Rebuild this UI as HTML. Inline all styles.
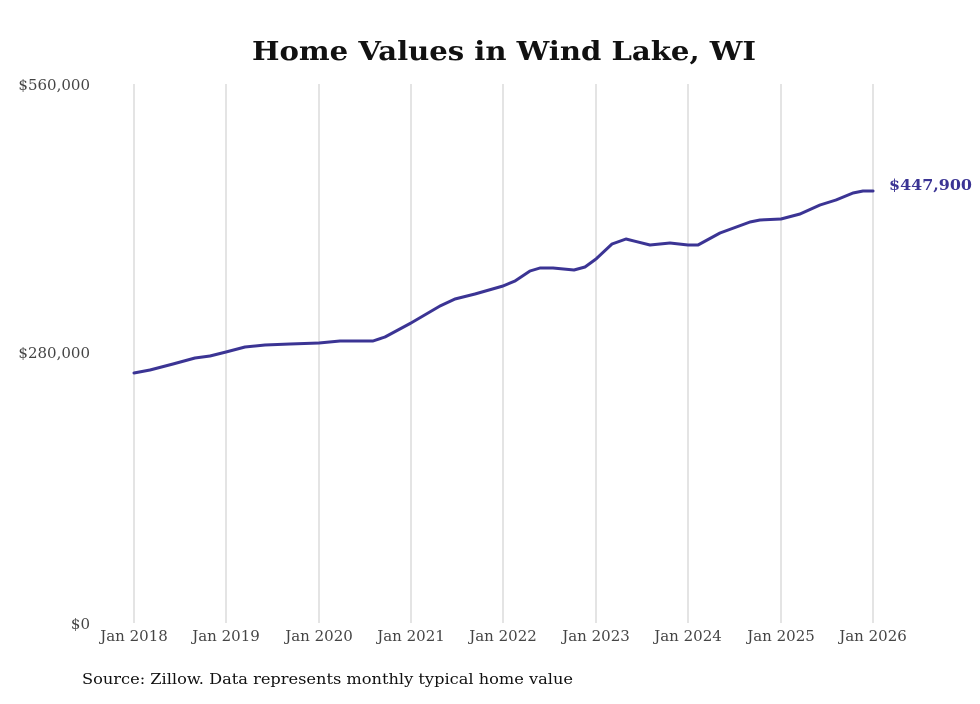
<!DOCTYPE html><html><head><style>body{margin:0;background:#fff}</style></head><body>
<svg width="980" height="699" xmlns="http://www.w3.org/2000/svg" font-family="DejaVu Serif, serif">
<rect width="980" height="699" fill="#fff"/>
<text x="504" y="60" text-anchor="middle" font-size="26" font-weight="bold" fill="#111" textLength="504" lengthAdjust="spacingAndGlyphs">Home Values in Wind Lake, WI</text>
<g stroke="#c8c8c8" stroke-width="1">
<line x1="134" y1="84" x2="134" y2="623"/><line x1="226" y1="84" x2="226" y2="623"/><line x1="319" y1="84" x2="319" y2="623"/><line x1="411" y1="84" x2="411" y2="623"/><line x1="503" y1="84" x2="503" y2="623"/><line x1="596" y1="84" x2="596" y2="623"/><line x1="688" y1="84" x2="688" y2="623"/><line x1="781" y1="84" x2="781" y2="623"/><line x1="873" y1="84" x2="873" y2="623"/>
</g>
<g font-size="15" fill="#444">
<text x="90" y="90" text-anchor="end">$560,000</text>
<text x="90" y="358" text-anchor="end">$280,000</text>
<text x="90" y="629" text-anchor="end">$0</text>
<g text-anchor="middle">
<text x="134" y="641">Jan 2018</text><text x="226" y="641">Jan 2019</text><text x="319" y="641">Jan 2020</text><text x="411" y="641">Jan 2021</text><text x="503" y="641">Jan 2022</text><text x="596" y="641">Jan 2023</text><text x="688" y="641">Jan 2024</text><text x="781" y="641">Jan 2025</text><text x="873" y="641">Jan 2026</text>
</g></g>
<polyline fill="none" stroke="#3b3494" stroke-width="3" stroke-linejoin="round" stroke-linecap="round" points="134,373 150,370 173,364 195,358 210,356 226,352 245,347 265,345 290,344 319,343 340,341 350,341 373,341 385,337 411,323 440,306 455,299 475,294 503,286 515,281 530,271 540,268 553,268 574,270 585,267 596,259 612,244 626,239 650,245 670,243 688,245 698,245 720,233 750,222 760,220 781,219 800,214 820,205 836,200 853,193 863,191 873,191"/>
<text x="889" y="190" font-size="15" font-weight="bold" fill="#3b3494" textLength="83" lengthAdjust="spacingAndGlyphs">$447,900</text>
<text x="82" y="684" font-size="15" fill="#111" textLength="491" lengthAdjust="spacingAndGlyphs">Source: Zillow. Data represents monthly typical home value</text>
</svg></body></html>
